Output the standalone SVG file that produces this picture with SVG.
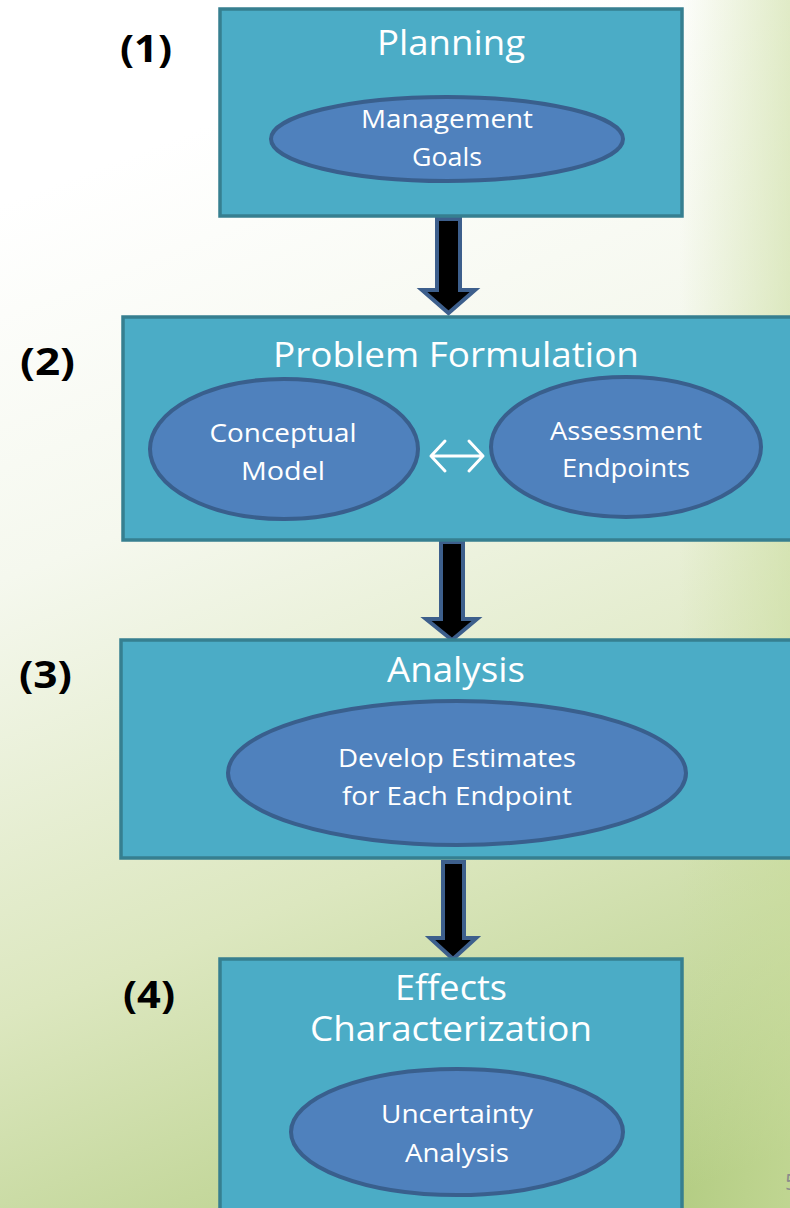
<svg xmlns="http://www.w3.org/2000/svg" width="790" height="1208" viewBox="0 0 790 1208">
  <defs>
    <linearGradient id="bg" gradientUnits="userSpaceOnUse" x1="220" y1="120" x2="640" y2="1208">
      <stop offset="0" stop-color="#ffffff"/>
      <stop offset="0.3" stop-color="#f5f8ee"/>
      <stop offset="0.65" stop-color="#dce7bf"/>
      <stop offset="1" stop-color="#b4cd84"/>
    </linearGradient>
    <linearGradient id="edge" gradientUnits="userSpaceOnUse" x1="680" y1="0" x2="790" y2="0">
      <stop offset="0" stop-color="#c9dc9c" stop-opacity="0"/>
      <stop offset="1" stop-color="#c9dc9c" stop-opacity="0.55"/>
    </linearGradient>
    <style>
      .box { fill: #4bacc6; stroke: #367f90; stroke-width: 3.5; }
      .oval { fill: #4f81bd; stroke: #395f8d; stroke-width: 4; }
      .title { font-family: "Open Sans", "Liberation Sans", sans-serif; font-size: 35px; fill: #ffffff; text-anchor: middle; }
      .inner { font-family: "Open Sans", "Liberation Sans", sans-serif; font-size: 25px; fill: #ffffff; text-anchor: middle; }
      .step { font-family: "Open Sans", "Liberation Sans", sans-serif; font-weight: bold; font-size: 38px; fill: #000000; }
      .flow { fill: #000000; stroke: #3d5f8c; stroke-width: 4; stroke-linejoin: miter; }
      .link { fill: none; stroke: #ffffff; stroke-width: 3; stroke-linecap: round; stroke-linejoin: round; }
    </style>
  </defs>

  <!-- background wash -->
  <rect x="0" y="0" width="790" height="1208" fill="url(#bg)"/>
  <rect x="680" y="0" width="110" height="1208" fill="url(#edge)"/>

  <!-- step numbers -->
  <text class="step" x="120" y="62" textLength="52" lengthAdjust="spacingAndGlyphs">(1)</text>
  <text class="step" x="20" y="375" textLength="55" lengthAdjust="spacingAndGlyphs">(2)</text>
  <text class="step" x="19" y="688" textLength="53" lengthAdjust="spacingAndGlyphs">(3)</text>
  <text class="step" x="123" y="1008" textLength="52" lengthAdjust="spacingAndGlyphs">(4)</text>

  <!-- connectors -->
  <g id="connectors">
    <path class="flow" d="M437,219 H460 V290 H475 L448.5,313 L422,290 H437 Z"/>
    <path class="flow" d="M441,542 H463 V619 H477 L452,640 L426,619 H441 Z"/>
    <path class="flow" d="M443,862 H464 V938 H476 L453,959 L430,938 H443 Z"/>
  </g>

  <!-- (1) Planning -->
  <g id="planning">
    <rect class="box" x="220" y="9" width="462" height="207"/>
    <text class="title" x="451" y="55" textLength="148" lengthAdjust="spacingAndGlyphs">Planning</text>
    <ellipse class="oval" cx="447" cy="139" rx="176" ry="42"/>
    <text class="inner" x="447" y="128" textLength="172" lengthAdjust="spacingAndGlyphs">Management</text>
    <text class="inner" x="447" y="166" textLength="70" lengthAdjust="spacingAndGlyphs">Goals</text>
  </g>

  <!-- (2) Problem Formulation -->
  <g id="problem-formulation">
    <rect class="box" x="123" y="317" width="690" height="223"/>
    <text class="title" x="456" y="367" textLength="366" lengthAdjust="spacingAndGlyphs">Problem Formulation</text>
    <ellipse class="oval" cx="284" cy="449" rx="134" ry="70"/>
    <text class="inner" x="283" y="442" textLength="147" lengthAdjust="spacingAndGlyphs">Conceptual</text>
    <text class="inner" x="283" y="480" textLength="84" lengthAdjust="spacingAndGlyphs">Model</text>
    <ellipse class="oval" cx="626" cy="447" rx="135" ry="70"/>
    <text class="inner" x="626" y="440" textLength="152" lengthAdjust="spacingAndGlyphs">Assessment</text>
    <text class="inner" x="626" y="477" textLength="128" lengthAdjust="spacingAndGlyphs">Endpoints</text>
    <path class="link" d="M431,456 H483 M445,441 L431,456 L445,471 M469,441 L483,456 L469,471"/>
  </g>

  <!-- (3) Analysis -->
  <g id="analysis">
    <rect class="box" x="121" y="640" width="690" height="218"/>
    <text class="title" x="456" y="682" textLength="138" lengthAdjust="spacingAndGlyphs">Analysis</text>
    <ellipse class="oval" cx="457" cy="773" rx="229" ry="72"/>
    <text class="inner" x="457" y="767" textLength="238" lengthAdjust="spacingAndGlyphs">Develop Estimates</text>
    <text class="inner" x="457" y="805" textLength="230" lengthAdjust="spacingAndGlyphs">for Each Endpoint</text>
  </g>

  <!-- (4) Effects Characterization -->
  <g id="effects-characterization">
    <rect class="box" x="220" y="959" width="462" height="270"/>
    <text class="title" x="451" y="1000" textLength="112" lengthAdjust="spacingAndGlyphs">Effects</text>
    <text class="title" x="451" y="1041" textLength="282" lengthAdjust="spacingAndGlyphs">Characterization</text>
    <ellipse class="oval" cx="457" cy="1132" rx="166" ry="63"/>
    <text class="inner" x="457" y="1123" textLength="152" lengthAdjust="spacingAndGlyphs">Uncertainty</text>
    <text class="inner" x="457" y="1162" textLength="104" lengthAdjust="spacingAndGlyphs">Analysis</text>
  </g>

  <!-- page number, partly past the right edge -->
  <text x="785" y="1190" font-family="'Open Sans', 'Liberation Sans', sans-serif" font-size="22" fill="#8c8c8c">5</text>
</svg>
